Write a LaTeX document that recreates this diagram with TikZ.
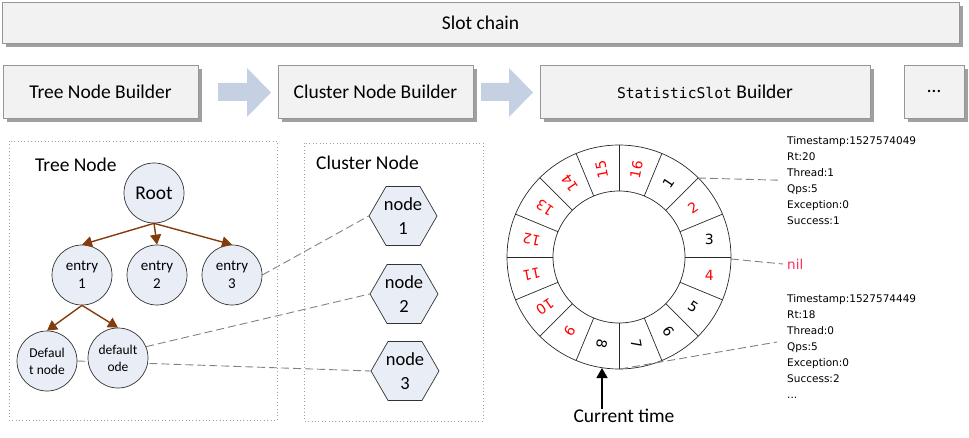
\documentclass[tikz,border=0pt]{standalone}
\usepackage{fontspec}
\setmainfont{Carlito}
\newfontfamily\dejavu{DejaVu Sans}
\newfontfamily\monofam{DejaVu Sans Mono}
\usetikzlibrary{shapes.geometric,arrows.meta,shadows,backgrounds,calc}
\definecolor{boxfill}{RGB}{242,242,242}
\definecolor{boxdraw}{RGB}{150,150,150}
\definecolor{shadowc}{RGB}{160,160,160}
\definecolor{arrowc}{RGB}{197,208,227}
\definecolor{nodefill}{RGB}{233,238,246}
\definecolor{nodedraw}{RGB}{50,50,50}
\definecolor{brownc}{RGB}{132,60,12}
\definecolor{dashc}{RGB}{130,130,130}
\definecolor{dotc}{RGB}{160,160,160}
\definecolor{ringred}{RGB}{255,0,0}
\definecolor{nilc}{RGB}{255,40,90}
\definecolor{ringc}{RGB}{40,40,40}
\begin{document}
\begin{tikzpicture}[x=1pt,y=-1pt,
  bigfont/.style={font=\fontsize{19.5}{22}\selectfont},
  box/.style={draw=boxdraw, fill=boxfill, line width=0.8pt, inner sep=0pt, bigfont,
    drop shadow={shadow xshift=4pt, shadow yshift=-4pt, fill=shadowc, opacity=1}},
  blockarrow/.style={fill=arrowc},
  tcirc/.style={circle, draw=nodedraw, fill=nodefill, line width=0.7pt, minimum size=60pt, inner sep=0pt, align=center},
  hexa/.style={regular polygon, regular polygon sides=6, draw=nodedraw, fill=nodefill, line width=0.7pt, minimum size=68pt, inner sep=0pt},
  brownarr/.style={draw=brownc, line width=1.4pt, -{Triangle[length=10pt,width=11pt]}},
  dashln/.style={draw=dashc, line width=0.9pt, dash pattern=on 8pt off 4pt},
  dotframe/.style={draw=dotc, line width=0.7pt, dash pattern=on 0.8pt off 2.6pt},
  ringline/.style={draw=ringc, line width=0.7pt},
  tsfont/.style={font=\dejavu\fontsize{10.5}{16}\selectfont},
  ringnum/.style={font=\dejavu\fontsize{14}{16}\selectfont, inner sep=0pt}
]
\useasboundingbox (0,0) rectangle (969,438);

% top boxes
\node[box, minimum width=957pt, minimum height=41pt] (slot) at (480.5,22.5) {Slot chain};
\node[box, minimum width=195pt, minimum height=53pt] (tnb) at (100.5,91.5) {Tree Node Builder};
\node[box, minimum width=195pt, minimum height=53pt] (cnb) at (375.5,91.5) {Cluster Node Builder};
\node[box, minimum width=330pt, minimum height=53pt] (ssb) at (705,91.5) {{\monofam\fontsize{14.7}{18}\selectfont StatisticSlot} Builder};
\node[box, minimum width=60pt, minimum height=53pt] (more) at (934,91.5) {\dots};

% block arrows
\fill[blockarrow] (218,83) -- (247,83) -- (247,68) -- (271,92.5) -- (247,117) -- (247,101) -- (218,101) -- cycle;
\fill[blockarrow] (481,83) -- (509,83) -- (509,68) -- (533,92.5) -- (509,117) -- (509,101) -- (481,101) -- cycle;

% frames
\draw[dotframe] (9,141) rectangle (277,420);
\draw[dotframe] (304,143) rectangle (483,421);
\node[bigfont, anchor=west, inner sep=0pt] (tnl) at (35,165) {Tree Node};
\node[bigfont, anchor=west, inner sep=0pt] (cnl) at (316,163) {Cluster Node};

% tree nodes
\node[tcirc, bigfont] (root) at (154,193) {Root};
\node[tcirc, font=\fontsize{15}{18}\selectfont] (e1) at (82,275) {entry\\1};
\node[tcirc, font=\fontsize{15}{18}\selectfont] (e2) at (157,275) {entry\\2};
\node[tcirc, font=\fontsize{15}{18}\selectfont] (e3) at (232,275) {entry\\3};
\node[tcirc, font=\fontsize{13.5}{17}\selectfont] (dtn) at (47,361) {Defaul\\t node};
\node[tcirc, font=\fontsize{13.5}{17}\selectfont] (dode) at (118,358) {default\\ode};

\draw[brownarr] (root.south) -- (e1.north);
\draw[brownarr] (root.south) -- (e2.north);
\draw[brownarr] (root.south) -- (e3.north);
\draw[brownarr] (e1.south) -- (dtn.north);
\draw[brownarr] (e1.south) -- (dode.north);

% cluster nodes
\node[hexa] (n1) at (403,216) {};
\node[hexa] (n2) at (404,294) {};
\node[hexa] (n3) at (405,371) {};
\node[font=\fontsize{18.5}{24}\selectfont, align=center, inner sep=0pt] (n1t) at (n1) {node\\1};
\node[font=\fontsize{18.5}{24}\selectfont, align=center, inner sep=0pt] (n2t) at (n2) {node\\2};
\node[font=\fontsize{18.5}{24}\selectfont, align=center, inner sep=0pt] (n3t) at (n3) {node\\3};

% ring
\begin{scope}[shift={(619,257)}, x=1pt, y=1pt]
  \draw[ringline, fill=white] (0,0) circle[radius=112];
  \draw[ringline] (0,0) circle[radius=66];
  \foreach \a in {0,22.5,...,337.5} \draw[ringline] (\a:66) -- (\a:112);
  \foreach \n/\c in {1/black,2/ringred,5/black,6/black,7/black,8/black,9/ringred,10/ringred,11/ringred,12/ringred,13/ringred,14/ringred,15/ringred,16/ringred}
    \node[ringnum, text=\c, rotate={78.75-22.5*\n}] (s\n) at ({78.75-22.5*\n}:89) {\n};
  \node[ringnum, text=black] (s3) at (11.25:92) {3};
  \node[ringnum, text=ringred] (s4) at (-11.25:92) {4};
\end{scope}
\coordinate (r1) at (698,178);
\coordinate (r4) at (731,259);
\coordinate (r8) at (620,369);
\coordinate (e8) at (777,342);
\coordinate (tip) at (602,368);

% stat texts
\node[tsfont, anchor=north west, align=left, inner sep=0pt] (ts1) at (787,136)
  {Timestamp:1527574049\\Rt:20\\Thread:1\\Qps:5\\Exception:0\\Success:1};
\node[anchor=west, text=nilc, font=\dejavu\fontsize{13.5}{16}\selectfont, inner sep=0pt] (nil) at (787,264) {nil};
\node[tsfont, anchor=north west, align=left, inner sep=0pt] (ts2) at (787,294)
  {Timestamp:1527574449\\Rt:18\\Thread:0\\Qps:5\\Exception:0\\Success:2\\...};

\node[bigfont, inner sep=0pt] (ct) at (624,416) {Current time};
\draw[line width=1.6pt, -{Triangle[length=10pt,width=11pt]}] (tip |- ct.north) -- (tip);

% dashed connectors behind nodes
\begin{scope}[on background layer]
  \draw[dashln] (e3.east) -- (n1.west);
  \draw[dashln] (dode.22) -- (n2.west);
  \draw[dashln] (dtn.east) -- (n3.west);
\end{scope}
\draw[dashln] (r1) -- ([xshift=-6pt]ts1.west);
\draw[dashln] (r4) -- ([xshift=-4pt]nil.west);
\draw[dashln] (r8) -- (e8);
\end{tikzpicture}
\end{document}
